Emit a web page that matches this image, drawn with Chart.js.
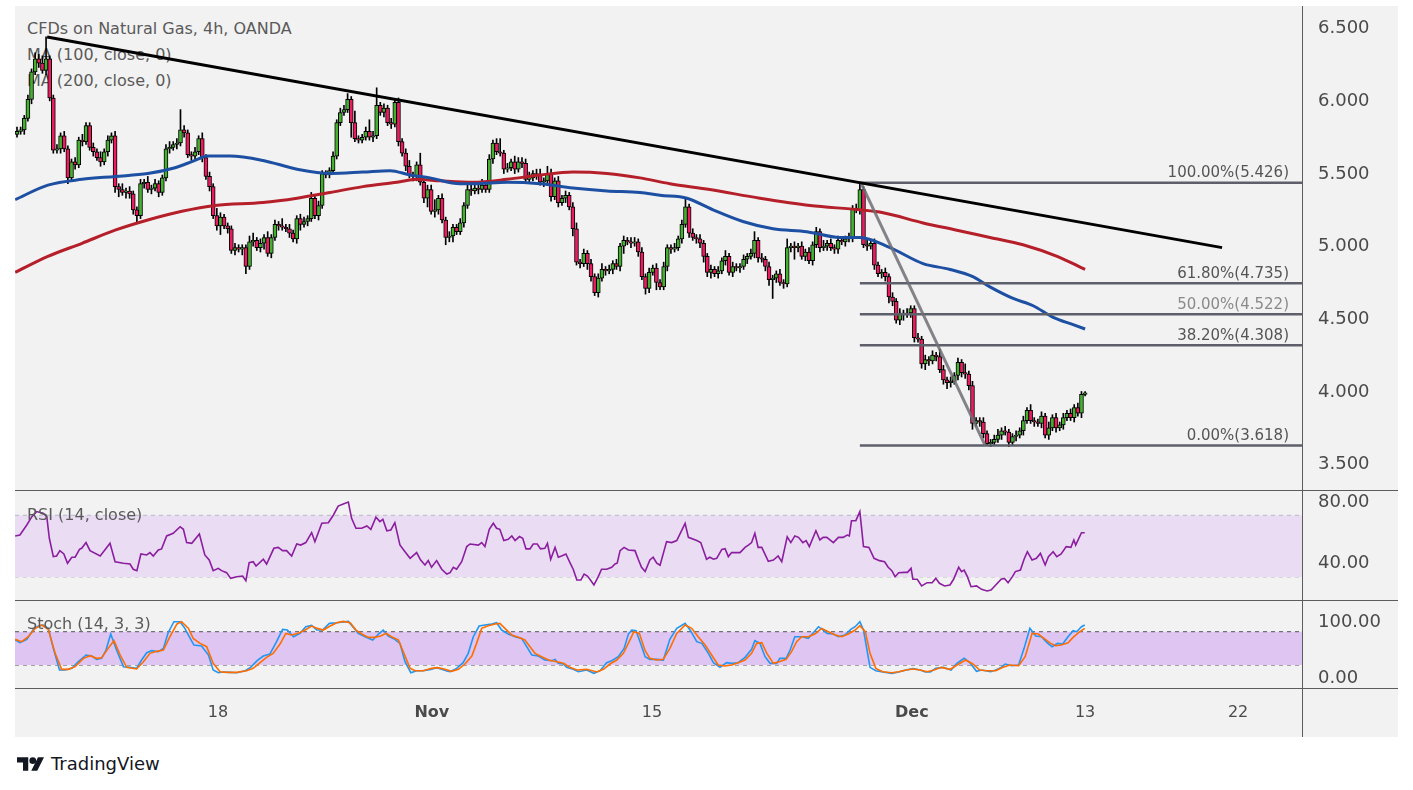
<!DOCTYPE html>
<html>
<head>
<meta charset="utf-8">
<title>CFDs on Natural Gas, 4h, OANDA</title>
<script src="https://cdn.jsdelivr.net/npm/chart.js"></script>
<style>
  body { margin: 0; background: #fff; font-family: 'DejaVu Sans', sans-serif; }
  #box { position: absolute; left: 15px; top: 6px; width: 1383px; height: 731px; background: #f2f2f2; overflow: hidden; }
  #box canvas { position: absolute; left: 0; }
  .lbl { position: absolute; left: 12px; font-size: 16px; line-height: 20px; color: #5a5a5a; white-space: nowrap; }
  .hl { position: absolute; left: 0; width: 1383px; height: 1px; background: #5c5c5c; }
  .vl { position: absolute; left: 1287px; top: 0; width: 1px; height: 731px; background: #5c5c5c; }
  #foot { position: absolute; left: 17px; top: 753px; display: flex; align-items: center; gap: 7px; font-size: 18px; color: #131722; }
</style>
</head>
<body>
<div id="box">
  <div class="lbl" style="top:13px">CFDs on Natural Gas, 4h, OANDA</div>
  <div class="lbl" style="top:39px">MA (100, close, 0)</div>
  <div class="lbl" style="top:65px">MA (200, close, 0)</div>
  <canvas id="price" width="1383" height="484" style="top:0"></canvas>
  <canvas id="rsi" width="1383" height="110" style="top:484px"></canvas>
  <canvas id="stoch" width="1383" height="137" style="top:594px"></canvas>
  <div class="lbl" style="top:499px">RSI (14, close)</div>
  <div class="lbl" style="top:608px">Stoch (14, 3, 3)</div>
  <div class="hl" style="top:484px"></div>
  <div class="hl" style="top:594px"></div>
  <div class="hl" style="top:682px"></div>
  <div class="vl"></div>
</div>
<div id="foot">
  <svg width="27" height="14" viewBox="0 0 36 18"><path d="M0 0h15v18H8V7H0z" fill="#131722"/><circle cx="21" cy="4.5" r="4.5" fill="#131722"/><path d="M28 0h8L27 18h-8z" fill="#131722"/></svg>
  <span>TradingView</span>
</div>

<script>
// 4h closes, one per bar (open = previous close)
const firstOpen = 5.76;
const closes = [
  5.78,5.79,5.87,6.00,6.19,6.28,6.25,6.20,6.28,6.01,
  5.65,5.66,5.75,5.66,5.46,5.57,5.55,5.72,5.71,5.82,
  5.67,5.64,5.60,5.57,5.64,5.72,5.75,5.40,5.38,5.36,
  5.37,5.35,5.24,5.20,5.42,5.43,5.38,5.39,5.42,5.36,
  5.46,5.66,5.67,5.69,5.70,5.79,5.77,5.62,5.61,5.64,
  5.73,5.60,5.47,5.40,5.20,5.13,5.19,5.13,5.11,4.96,
  4.98,4.97,4.98,
  4.85,5.02,5.03,4.98,5.01,5.05,4.94,5.05,5.14,5.13,
  5.12,5.11,5.08,5.04,5.18,5.14,5.16,5.18,5.32,5.20,
  5.27,5.49,5.48,5.51,5.61,5.84,5.91,5.93,6.00,5.84,
  5.73,5.72,5.74,5.78,5.74,5.75,5.96,5.91,5.94,5.84,
  5.83,5.98,5.71,5.63,5.54,5.48,5.47,5.55,5.43,5.32,
  5.38,5.23,5.24,5.32,5.17,5.05,5.06,5.12,5.09,
  5.15,5.27,5.38,5.37,5.39,5.38,5.41,5.38,5.59,5.70,
  5.64,5.63,5.52,5.53,5.57,5.52,5.57,5.56,5.45,5.46,
  5.49,5.48,5.43,5.44,5.49,5.33,5.44,5.29,5.32,5.34,
  5.26,5.11,4.88,4.87,4.94,4.87,4.78,4.67,4.77,4.83,
  4.82,4.83,4.87,4.85,4.99,5.03,5.02,5.01,5.02,4.95,
  4.78,4.70,4.81,4.84,4.74,4.71,4.85,4.98,
  4.97,4.98,5.04,5.14,5.26,5.08,5.05,5.04,5.01,4.92,
  4.81,4.83,4.80,4.82,4.89,4.92,4.81,4.85,4.84,4.85,
  4.90,4.92,4.94,5.03,4.91,4.90,4.85,4.76,4.77,4.80,
  4.74,4.73,4.98,4.99,4.98,4.99,4.92,4.95,4.89,5.00,
  5.09,4.98,4.99,5.01,4.98,4.97,5.03,5.02,5.04,5.05,
  5.25,5.24,5.38,
  5.00,4.99,5.01,4.86,4.80,4.81,4.78,4.64,4.61,4.48,
  4.53,4.52,4.53,4.56,4.36,4.35,4.18,4.21,4.20,4.24,
  4.23,4.14,4.07,4.05,4.06,4.10,4.19,4.12,4.11,4.03,
  3.77,3.79,3.78,3.70,3.63,3.64,3.66,3.69,3.72,3.71,
  3.64,3.68,3.69,3.72,3.79,3.86,3.79,3.78,3.77,3.82,
  3.69,3.74,3.81,3.74,3.76,3.81,3.84,3.81,3.88,3.84,
  3.97,3.98
];
// upper / lower wick beyond the body, in cents
const hiWick = [
  3,2,2,3,2,4,3,5,15,2, 2,3,2,3,2,2,3,2,4,2, 2,3,2,4,2,3,2,3,2,4, 2,3,2,2,3,2,4,2,3,2,
  2,3,4,2,3,14,3,2,2,3, 2,4,2,3,2,5,3,2,2,2, 3,2,2,2,4,5,2,3,2,4, 2,3,2,5,2,3,2,2,3,3,
  2,4,2,3,2,2,2,3,2,3, 3,4,2,8,2,2,3,8,3,12, 2,3,2,3,2,3,2,3,4,2, 2,8,2,3,3,7,2,3,2,3,
  2,2,3,2,3,4,2,3,4,2, 3,2,3,9,2,3,2,4,3,3, 3,4,2,3,4,2,5,3,2,3, 2,3,2,3,4,2,3,2,3,2,
  3,4,2,3,2,3,2,3,2,3, 3,2,3,2,3,2,3,2,3,2, 2,3,2,3,6,2,3,2,3,2, 2,3,2,3,2,4,2,3,2,2,
  3,2,3,6,2,3,2,3,2,2, 3,2,6,2,3,2,3,2,3,2, 3,2,4,2,3,2,3,2,2,3, 2,3,5,2,3,2,3,2,2,3,
  2,3,2,3,2,3,2,2,3,2, 3,2,3,2,5,3,2,3,2,3, 2,6,2,3,2,2,3,2,2,3, 4,2,3,2,2,3,2,3,2,4,
  2,2,3,2,4,2,3,2,3,2, 3,2,3,2,1
];
const loWick = [
  2,2,3,2,3,2,3,2,3,2, 2,2,3,2,4,2,3,2,3,2, 2,3,2,3,2,3,2,4,5,2, 4,3,3,5,2,3,2,3,2,3,
  2,2,3,2,3,2,3,2,3,2, 2,3,2,3,2,3,6,2,3,2, 3,2,4,5,2,3,2,3,4,2, 3,2,3,2,2,3,2,3,4,2,
  3,2,2,3,2,2,2,2,2,2, 2,2,10,2,2,2,2,2,3,2, 2,3,2,3,2,3,2,3,2,3, 3,2,3,6,2,4,3,2,5,3,
  4,2,2,3,2,3,2,3,2,2, 2,3,2,2,3,2,2,3,2,3, 2,3,2,3,2,3,2,3,2,3, 2,3,2,5,2,3,2,4,3,2,
  3,2,3,2,3,2,3,5,2,3, 2,3,2,4,3,2,5,2,2,3, 3,2,2,3,2,3,2,3,3,4, 3,4,2,3,2,3,2,3,2,3,
  2,3,2,3,3,2,3,4,13,3, 2,3,2,3,8,3,2,3,2,3, 2,3,2,3,2,3,3,2,3,2, 3,2,3,2,3,2,3,2,3,3,
  4,3,2,3,4,2,3,3,2,3, 4,3,2,3,2,3,4,3,2,3, 3,3,3,4,2,3,3,1,2,2, 2,3,2,3,2,3,2,3,2,2,
  3,2,3,2,3,2,3,2,3,2, 2,3,2,3,1
];

// moving averages read at [bar, value]
const ma100 = [[-0.5,5.31],[8.5,5.41],[17.9,5.45],[27,5.47],[36,5.49],[43.5,5.53],[49,5.58],[52.5,5.61],[58.6,5.61],
  [67.7,5.58],[77.1,5.52],[86.2,5.49],[95.2,5.50],[102.7,5.51],[108.2,5.48],[113.7,5.46],[121.9,5.42],[125.5,5.42],
  [134.9,5.43],[144,5.42],[153,5.39],[162.4,5.37],[171.5,5.36],[177,5.34],[184.4,5.32],[191.6,5.24],[199.8,5.16],
  [208.1,5.11],[217.4,5.09],[226.5,5.05],[232,5.05],[240.3,4.98],[249.4,4.87],[256.8,4.83],[263.1,4.78],[267.8,4.71],
  [274.2,4.63],[279.7,4.58],[285.2,4.50],[290.7,4.45],[294,4.42]];
const ma200 = [[-0.5,4.81],[8.5,4.92],[17.9,5.01],[27,5.10],[36,5.17],[45.4,5.23],[54.5,5.27],[67.7,5.29],[77.1,5.32],
  [86.2,5.36],[95.2,5.40],[104.6,5.43],[110.1,5.45],[116.4,5.44],[125.5,5.43],[134.9,5.45],[144,5.48],[153,5.50],
  [162.4,5.49],[171.5,5.46],[179.7,5.42],[190.7,5.38],[204.5,5.32],[218.3,5.27],[232,5.24],[238.4,5.22],[249.4,5.15],
  [258.7,5.10],[267.8,5.05],[276.9,5.00],[286.3,4.92],[294,4.83]];

// drawings
const trendLine = [[8.3,6.43],[331.7,4.98]];
const fibSwing = [[232.3,5.426],[266.5,3.618]];
const fibStart = 232;
const fibLevels = [5.426, 4.735, 4.522, 4.308, 3.618];
const fibPct = ['100.00%', '61.80%', '50.00%', '38.20%', '0.00%'];

// RSI (14) read at [bar, value]
const rsiPts = [[-0.5,56.6],[0.8,57.2],[2.7,63.7],[4.1,69.1],[5.4,72.4],[7.2,71.3],[8.2,69.1],[8.9,55.1],[10,43.2],
  [10.9,43.6],[11.8,47.1],[12.9,44.9],[13.9,38.9],[15.1,42.8],[16,42.8],[17.2,47.9],[17.8,48.6],[19,52.3],[20.1,47.1],
  [22.9,43.6],[25.6,51.8],[27,39.9],[29.3,38.9],[31.1,38.4],[32,35],[33,34.1],[34.1,44.9],[35.7,44.3],[36.6,45.8],
  [37.5,43.6],[38.9,47.5],[39.8,48.2],[41.2,56.6],[43,58.3],[44.9,62.6],[45.8,60.9],[46.7,52.3],[48.1,51.8],[50.2,57.9],
  [51.7,44.3],[52.9,41],[54,34.1],[55.4,35.6],[56.3,34.1],[57.7,32.8],[58.8,29.1],[60.5,30.2],[62.1,30.6],[63,27.6],
  [63.9,39.3],[65,39.9],[65.8,37.1],[67.8,41.5],[68.7,38.4],[70.7,48.6],[71.9,49.2],[73.1,47.1],[74.2,47.1],[75.6,43.6],
  [77,51.4],[78.1,50.7],[79.5,52.3],[81.1,58.8],[82,52.9],[83.9,64.8],[85.7,65.2],[87.1,70.2],[88.4,76],[89.8,77.3],
  [91.2,78.6],[92.1,68],[93.3,61.6],[94.9,61.6],[96.3,63.1],[97.4,60.9],[98.8,68.7],[99.9,65.9],[100.7,67.4],[101.8,60],
  [102.9,60.5],[104,65.2],[105.4,50.8],[106.8,46.4],[108.2,42.1],[110,45.8],[111.1,41],[112.3,37.8],[113.2,40.6],
  [114.1,36.3],[115.5,40.6],[116.9,35],[118.3,31.9],[119.2,32.8],[120.1,36.3],[121,35],[122.4,39.9],[123.8,49.7],
  [124.7,51.4],[127,50.7],[127.9,52.3],[128.8,49.7],[130,60.9],[131.1,64.8],[132,61.6],[132.9,60.9],[134,53.6],
  [135.2,54.4],[136.2,56.6],[137.1,53.6],[138.3,56.2],[139.2,55.1],[140.1,48.2],[141.2,48.2],[142.1,51.4],[143.2,51.4],
  [144.1,48.2],[145.3,48.6],[146,51.8],[146.9,41.5],[148.1,49.2],[149,42.8],[149.9,43.6],[151.1,44.9],[152.2,39.3],
  [153.1,35],[154.1,28],[155.2,28],[156.1,31.9],[157,30.6],[157.7,28.5],[158.8,24.8],[160,30.2],[160.9,35],[162.3,35],
  [163.7,36.3],[164.6,38.4],[165.2,38.9],[166,47.1],[167.1,49.2],[168.3,47.5],[170.1,47.1],[171,41.5],[171.9,36.3],
  [172.9,33.5],[174.2,41],[175.1,42.8],[176.1,38.9],[177,37.6],[178.8,52.9],[180.2,52.3],[181.6,53.6],[183.9,64.8],
  [184.8,55.7],[187.1,53.6],[188.2,52.3],[189.8,41.5],[190.7,42.8],[191.7,41.5],[192.6,42.1],[194,47.9],[194.9,48.4],
  [195.8,43.2],[196.7,45.8],[199,45.8],[200.4,49.2],[201.3,50.7],[202.2,52.3],[203.1,58.3],[204,49.2],[205,49.2],
  [206.8,40.2],[208.2,41],[209.5,43.6],[210.5,39.9],[212,56.1],[213,52.3],[214.1,56.6],[215.1,55.7],[216.3,52.3],
  [217.2,53.6],[218.1,49.7],[219.9,60],[221,54],[221.9,55.7],[222.9,55.7],[224.7,52.3],[226.1,55.7],[227.4,55.7],
  [228.5,57.2],[229.1,56.6],[229.7,66.5],[230.9,66.5],[232,72.4],[233,49.7],[234.5,49.2],[235.9,42.1],[237.4,40.6],
  [238.8,39.9],[239.8,36.3],[240.8,34.1],[241.7,30.2],[242.7,32.8],[244.2,33],[245.1,33],[246.1,35.6],[246.6,28.5],
  [247.8,28.5],[249,24.2],[250.5,26.3],[251.9,26.3],[252.9,29.1],[253.9,25.9],[255.3,24.2],[256.8,24.8],[257.8,28.5],
  [259.2,36.3],[260,33.5],[260.7,34.5],[261.6,30.2],[262.6,23.7],[264.1,24.2],[265.5,22],[267,20.9],[268.1,21.6],
  [269.4,24.8],[270.9,28.5],[271.8,29.1],[272.8,26.3],[274,30.2],[274.8,33.5],[276.2,34.5],[277.2,41.5],[278.1,46.4],
  [279.4,41],[280.6,42.1],[281.7,45.3],[283,37.8],[283.9,43.2],[285.2,46.4],[286.2,43.2],[287.4,44.9],[288.8,49.7],
  [290.1,49.2],[290.9,54],[291.4,50.7],[293,58.7],[293.9,58.7]];

// Stochastic (14, 3, 3) %K and %D read at [bar, value]
const stochK = [[-0.5,65],[0.8,60.2],[2.7,66.2],[4.5,84.2],[5.9,90.2],[7.2,92],[8.6,86],[10,50],[11.7,11],[13.2,11],
  [15.1,14],[16.9,26],[19,38],[20.6,36.2],[21.9,30.2],[23.3,32],[24.5,47],[25.8,75.8],[27.4,47],[29.3,17],[31.1,15.8],
  [32.9,14],[34.3,29],[35.7,42.2],[37.1,45.8],[38.9,44],[40.3,50],[41.6,78.2],[43.2,98],[44.9,98],[46.2,86],[47.4,71],
  [48.7,56],[50.8,54.2],[52.7,38],[54,11],[55.4,6.2],[56.8,7.4],[58.6,6.8],[60.5,6.2],[62.8,9.8],[64.3,15.8],[66.1,27.8],
  [67.8,36.2],[69.6,39.8],[71.3,60.2],[73.1,84.2],[74.4,83],[76.1,71],[77.9,77],[79.5,89],[81.1,91.4],[82.5,83],[84.1,83],
  [86,95],[88,96.2],[91.2,98.6],[92.6,87.8],[93.9,77],[95.8,71],[97.9,65],[99.5,75.8],[100.8,83],[102.2,72.2],[104,66.2],
  [105.4,59],[106.8,26],[108.4,6.2],[110,9.8],[111.8,9.8],[113.9,12.2],[115.5,15.2],[116.9,12.2],[118.3,9.2],[119.2,8],
  [121,14],[122.8,24.2],[124.2,41],[125.6,71],[127.2,90.2],[128.8,92],[130.7,93.8],[132,96.2],[133.4,83],[135.2,75.8],
  [137.1,71],[138.9,68],[140.3,53],[141.7,38],[143.5,36.2],[145.3,29],[147.2,27.8],[148.1,30.2],[149,23],[150.4,21.8],
  [151.3,15.8],[153.1,12.2],[154.5,8],[156.8,11],[158.8,5],[160.5,9.8],[162.3,24.2],[163.7,27.8],[165.5,35],[167.1,50],
  [168.3,75.8],[169.2,83],[170.4,81.8],[171.7,57.8],[172.9,35],[174.2,30.2],[176.1,30.2],[177.9,29],[179.7,66.2],
  [181.6,86],[183.9,95],[185.4,81.8],[187.1,62],[188.5,59],[190.3,41],[191.7,24.2],[193.5,15.8],[195.3,24.2],[196.7,23],
  [198.5,24.2],[200.4,33.8],[202.2,48.2],[203.1,63.8],[204.5,59],[205.9,35],[207.3,23],[209.1,23],[210,32],[211.7,32],
  [212.8,47],[214.1,71],[216,71],[217.8,68],[219.2,78.2],[220.6,89],[221.9,83],[223,77],[224.7,75.8],[226.1,71],[227.9,74],
  [229.5,84.2],[230.7,89],[232,98],[233,83],[234.8,15.8],[236.4,9.8],[238.3,7.4],[240.8,5],[242.7,7.4],[244.7,11],
  [246.6,13.4],[248.6,11],[250,7.4],[251.4,7.4],[252.9,14],[254.9,15.8],[257.1,11],[258.7,23],[260.7,32],[262.3,24.2],
  [264.1,8.6],[265.5,11],[268,8],[269.4,11],[270.9,15.8],[272,21.8],[273.8,18.8],[275.7,20],[277.2,50],[278.8,86],
  [280.4,72.2],[282,71],[283.5,60.2],[284.9,53],[286.4,59],[287.8,57.8],[289.3,71],[290.7,81.8],[291.7,80],[293,89],
  [293.9,92]];
const stochD = [[-0.5,66.2],[1.3,62],[3.1,71],[5,86],[6.8,92],[8.6,84.2],[10.5,41],[12.3,12.2],[14.1,12.2],[16,17],
  [18.3,32],[20.1,36.8],[21.9,32],[23.3,33.2],[25.1,50],[26.7,63.8],[28.4,38],[30.2,15.8],[32.9,12.8],[34.8,26],[36.6,41],
  [38.5,44.6],[40.3,47],[42.1,71],[44,93.8],[45.3,98],[47.2,86],[48.5,68],[50.4,59],[52.2,53],[54,23],[55.9,8],[57.7,6.8],
  [60.5,6.8],[63.2,9.8],[65,14],[66.9,24.2],[68.7,33.8],[70.5,41],[72.4,57.8],[74,77],[75.6,74],[77.4,77],[79.3,83],
  [81.1,90.2],[82.7,86],[84.3,83],[86.2,90.2],[88,96.2],[89.8,98.6],[91.7,96.2],[93.3,83],[94.9,75.8],[96.7,69.8],
  [98.5,69.8],[100.1,72.2],[101.6,77],[103.1,71],[105,65],[106.5,41],[108.2,14],[109.6,9.8],[111.8,9.8],[114.1,14],
  [115.7,15.2],[117.3,13.4],[119.6,8.6],[121.5,12.2],[123.3,21.8],[125.2,36.2],[126.5,59],[127.9,86],[129.7,90.8],
  [131.6,93.8],[132.9,95],[134.3,86],[136.2,74],[138,69.8],[139.8,65],[141.2,53],[142.6,41],[144.4,35],[146.3,29],
  [148.6,26],[150.4,23],[152.2,15.8],[154.1,11],[156.8,12.2],[159.6,7.4],[161.4,12.2],[163.2,21.8],[165.1,29],[166.9,41],
  [168.7,65],[169.8,80],[171.3,77],[172.9,45.8],[174.2,32],[176.1,29],[177.9,30.2],[179.7,50],[181.6,77],[183.9,92],
  [185.7,86],[187.5,71],[189.4,56],[191.2,38],[193,20],[194.9,18.2],[196.7,20],[198.5,24.2],[200.4,29],[202.2,41],
  [203.6,59],[205,60.2],[206.4,41],[208.2,23],[209.8,26],[211.7,30.2],[213.2,44],[214.6,62],[216,71],[217.8,71],
  [219.6,75.8],[221.5,86],[223.3,80],[225.2,74],[227,71],[228.8,75.8],[230.7,83],[232,90.8],[233.5,80],[234.8,41],
  [236.4,14],[238.3,8],[240.8,6.2],[242.7,8],[244.7,11],[246.6,12.8],[248.6,11],[250.5,8],[252.4,11],[254.4,15.8],
  [256.8,12.2],[259.2,21.8],[261.1,29],[263.1,21.8],[265,11],[267,9.8],[269.4,9.8],[271.4,15.8],[273.3,20],[275.7,18.8],
  [277.5,35],[279.4,77],[281.1,75.8],[282.7,68],[284.5,59],[285.9,54.8],[287.4,56],[289.3,60.2],[290.7,69.8],[292.2,78.2],
  [293.9,86]];

// axes
const priceTicks = [3.5, 4.0, 4.5, 5.0, 5.5, 6.0, 6.5];
const rsiTicks = [40, 80];
const stochTicks = [0, 100];
const dateIdx = [55.3, 114.2, 174.8, 246.3, 294.0, 336.1];
const dateLabels = ['18', 'Nov', '15', 'Dec', '13', '22'];
const dateBold = [false, true, false, true, false, false];

const FONT = "'DejaVu Sans', sans-serif";
const X_MIN = -0.55, X_MAX = 353.7;
const UP = '#43b02f', DOWN = '#ea1b5e';
const AXIS_W = 96;

const opens = closes.map((c, i) => i === 0 ? firstOpen : closes[i - 1]);
const toXY = pts => pts.map(p => ({x: p[0], y: p[1]}));
const line = (pts, color, width, extra) => Object.assign({
  type: 'line', data: toXY(pts), borderColor: color, borderWidth: width,
  pointRadius: 0, fill: false, tension: 0
}, extra || {});

const xAxis = (show) => ({
  type: 'linear', min: X_MIN, max: X_MAX, offset: false, display: show,
  grid: {display: false, drawTicks: false}, border: {display: false},
  afterBuildTicks: s => { if (show) s.ticks = dateIdx.map(v => ({value: v})); },
  afterFit: s => { if (show) { s.height = 49; s.paddingLeft = 0; s.paddingRight = 0; } },
  ticks: {
    autoSkip: false, maxRotation: 0, padding: 15, color: '#4a4a4a',
    font: c => ({family: FONT, size: 16, weight: dateBold[c.index] ? 'bold' : 'normal'}),
    callback: (v, i) => dateLabels[i]
  }
});
const yAxis = (min, max, ticks, fmt) => ({
  position: 'right', min: min, max: max,
  grid: {display: false, drawTicks: false}, border: {display: false},
  afterBuildTicks: s => { s.ticks = ticks.map(v => ({value: v})); },
  afterFit: s => { s.width = AXIS_W; s.paddingTop = 0; s.paddingBottom = 0; },
  ticks: {padding: 16, labelOffset: 2, color: '#4a4a4a', font: {family: FONT, size: 18}, callback: v => fmt(v)}
});
const common = {
  responsive: false, animation: false, events: [],
  layout: {padding: 0},
  plugins: {legend: {display: false}, tooltip: {enabled: false}}
};

const fibLabels = {
  id: 'fibLabels',
  afterDatasetsDraw(chart) {
    const {ctx, chartArea, scales} = chart;
    ctx.save();
    ctx.font = '15px ' + FONT;
    ctx.textAlign = 'right';
    ctx.textBaseline = 'bottom';
    fibLevels.forEach((lv, k) => {
      ctx.fillStyle = k === 2 ? '#8a8a8a' : '#555';
      ctx.fillText(fibPct[k] + '(' + lv.toFixed(3) + ')', chartArea.right - 13, scales.y.getPixelForValue(lv) - 2);
    });
    ctx.restore();
  }
};

// price panel
const fibSets = fibLevels.map(lv => line([[fibStart, lv], [X_MAX, lv]], '#5d606b', 2.5, {order: 0}));
new Chart(document.getElementById('price'), {
  type: 'bar',
  data: {
    datasets: [
      line(trendLine, '#000', 3, {order: 0}),
      line(fibSwing, 'rgba(110,110,118,0.85)', 3, {order: 0}),
      ...fibSets,
      line(ma100, '#1d50a3', 3, {order: 1, tension: 0.4, cubicInterpolationMode: 'monotone'}),
      line(ma200, '#b51f29', 3, {order: 1, tension: 0.4, cubicInterpolationMode: 'monotone'}),
      {
        type: 'bar', order: 2, grouped: false, barThickness: 4, minBarLength: 1,
        data: closes.map((c, i) => ({x: i, y: [opens[i], c]})),
        backgroundColor: closes.map((c, i) => c >= opens[i] ? UP : DOWN),
        borderColor: '#000', borderWidth: 1, borderSkipped: false
      },
      {
        type: 'bar', order: 3, grouped: false, barThickness: 1,
        data: closes.map((c, i) => ({x: i, y: [Math.min(opens[i], c) - loWick[i] / 100, Math.max(opens[i], c) + hiWick[i] / 100]})),
        backgroundColor: '#000', borderWidth: 0
      }
    ]
  },
  options: Object.assign({}, common, {
    scales: {x: xAxis(false), y: yAxis(3.312, 6.643, priceTicks, v => v.toFixed(3))}
  }),
  plugins: [fibLabels]
});

// RSI panel
new Chart(document.getElementById('rsi'), {
  type: 'line',
  data: {
    datasets: [
      line([[X_MIN, 70], [X_MAX, 70]], '#b9b9c2', 1, {order: 1, borderDash: [4, 4], fill: '+1', backgroundColor: '#e9dcf3'}),
      line([[X_MIN, 30], [X_MAX, 30]], '#b9b9c2', 1, {order: 1, borderDash: [4, 4]}),
      line(rsiPts, '#8b1e9e', 1.6, {order: 0})
    ]
  },
  options: Object.assign({}, common, {
    scales: {x: xAxis(false), y: yAxis(15.07, 86.4, rsiTicks, v => v.toFixed(2))}
  })
});

// Stochastic panel with the date axis
new Chart(document.getElementById('stoch'), {
  type: 'line',
  data: {
    datasets: [
      line([[X_MIN, 80], [X_MAX, 80]], '#555', 1, {order: 2, borderDash: [4, 4], fill: '+1', backgroundColor: '#dfc5f2'}),
      line([[X_MIN, 20], [X_MAX, 20]], '#555', 1, {order: 2, borderDash: [4, 4]}),
      line(stochK, '#2196f3', 1.6, {order: 1}),
      line(stochD, '#ff6d00', 1.6, {order: 0})
    ]
  },
  options: Object.assign({}, common, {
    scales: {x: xAxis(true), y: yAxis(-21.4, 137.1, stochTicks, v => v.toFixed(2))}
  })
});
</script>
</body>
</html>
